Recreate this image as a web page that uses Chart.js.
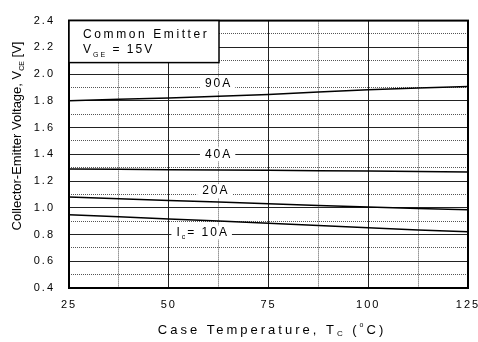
<!DOCTYPE html>
<html>
<head>
<meta charset="utf-8">
<script src="https://cdn.jsdelivr.net/npm/chart.js@4.4.0/dist/chart.umd.min.js"></script>
<style>
  html, body { margin: 0; padding: 0; background: #fff; }
  canvas { display: block; }
</style>
</head>
<body>
<canvas id="chart" width="478" height="342"></canvas>
<script>
// case temperature (°C) and V_CE (V)
const temps = [25, 50, 75, 100, 125];
const vce90 = [1.80, 1.822, 1.847, 1.883, 1.907];
const vce40 = [1.29, 1.285, 1.28, 1.275, 1.267];
const vce20 = [1.08, 1.055, 1.03, 1.005, 0.985];
const vce10 = [0.948, 0.917, 0.885, 0.85, 0.82];
const curveNames = ['90A', '40A', '20A', '10A'];
// where each curve label sits, in data units (temp, volts)
const labelTemp = [62.5, 62.5, 61.8, 58.5];
const labelVolt = [1.925, 1.4, 1.125, 0.815];

const FONT = '"Liberation Sans", Arial, sans-serif';

function pts(ys) { return temps.map((t, i) => ({ x: t, y: ys[i] })); }

function isMajorX(v) { return Math.abs(v % 25) < 1e-6; }
function isMajorY(v) { return Math.round(v * 10) % 2 === 0; }

// draw a row of text pieces, some of them subscripts
function runsWidth(ctx, runs) {
    let w = 0;
    runs.forEach(r => { ctx.font = r.size + 'px ' + FONT; w += ctx.measureText(r.t).width; });
    return w;
}
function drawRuns(ctx, x, y, runs, align) {
    let cx = align === 'center' ? x - runsWidth(ctx, runs) / 2 : x;
    ctx.textAlign = 'left';
    ctx.textBaseline = 'middle';
    runs.forEach(r => {
        ctx.font = r.size + 'px ' + FONT;
        ctx.fillText(r.t, cx, y + (r.dy || 0));
        cx += ctx.measureText(r.t).width;
    });
}

const decorations = {
    id: 'decorations',
    beforeDraw(chart) {
        chart.ctx.letterSpacing = '2px';
    },
    afterDraw(chart) {
        const { ctx, chartArea: a, scales } = chart;
        ctx.save();
        ctx.fillStyle = '#000';
        ctx.strokeStyle = '#000';

        // curve labels with a white gap behind them
        ctx.letterSpacing = '2px';
        curveNames.forEach((name, i) => {
            const px = scales.x.getPixelForValue(labelTemp[i]);
            const py = scales.y.getPixelForValue(labelVolt[i]);
            const runs = name === '10A'
                ? [{ t: 'I', size: 12 }, { t: 'c', size: 7, dy: 5 }, { t: '= 10A', size: 12 }]
                : [{ t: name, size: 12 }];
            const w = runsWidth(ctx, runs);
            ctx.fillStyle = '#fff';
            ctx.fillRect(px - w / 2 - 5, py - 7, w + 8, 14);
            ctx.fillStyle = '#000';
            drawRuns(ctx, px, py, runs, 'center');
        });

        // frame
        ctx.lineWidth = 2;
        ctx.strokeRect(a.left, a.top, a.right - a.left, a.bottom - a.top);

        // condition box
        ctx.fillStyle = '#fff';
        ctx.fillRect(a.left, a.top, 150, 42);
        ctx.lineWidth = 1.5;
        ctx.strokeRect(a.left, a.top, 150, 42);
        ctx.fillStyle = '#000';
        ctx.letterSpacing = '2.6px';
        drawRuns(ctx, a.left + 14, a.top + 14, [{ t: 'Common Emitter', size: 12 }], 'left');
        ctx.letterSpacing = '2px';
        drawRuns(ctx, a.left + 14, a.top + 29, [
            { t: 'V', size: 12 }, { t: 'GE', size: 7, dy: 5 }, { t: ' = 15V', size: 12 }
        ], 'left');

        // x axis title
        ctx.letterSpacing = '3px';
        drawRuns(ctx, 272, 330, [
            { t: 'Case Temperature, T', size: 13 }, { t: 'C', size: 8, dy: 4 },
            { t: ' (', size: 13 }, { t: 'o', size: 7, dy: -5 }, { t: 'C)', size: 13 }
        ], 'center');

        // y axis title
        ctx.letterSpacing = '0px';
        ctx.translate(17, 136);
        ctx.rotate(-Math.PI / 2);
        drawRuns(ctx, 0, 0, [
            { t: 'Collector-Emitter Voltage, V', size: 13 }, { t: 'CE', size: 7, dy: 5 },
            { t: ' [V]', size: 13 }
        ], 'center');
        ctx.restore();
    }
};

const lineStyle = { borderColor: '#000', borderWidth: 1.5, pointRadius: 0, fill: false, tension: 0.3 };

new Chart(document.getElementById('chart'), {
    type: 'line',
    data: {
        datasets: [
            Object.assign({ label: '90A', data: pts(vce90) }, lineStyle),
            Object.assign({ label: '40A', data: pts(vce40) }, lineStyle),
            Object.assign({ label: '20A', data: pts(vce20) }, lineStyle),
            Object.assign({ label: '10A', data: pts(vce10) }, lineStyle)
        ]
    },
    options: {
        responsive: false,
        animation: false,
        layout: { padding: { left: 0, top: 12, right: 10, bottom: 0 } },
        plugins: { legend: { display: false }, tooltip: { enabled: false } },
        scales: {
            x: {
                type: 'linear', min: 25, max: 125,
                afterFit: s => { s.height = 54; s.paddingLeft = 0; s.paddingRight = 0; },
                ticks: {
                    stepSize: 12.5, autoSkip: false, maxRotation: 0, padding: 10,
                    color: '#000', font: { family: FONT, size: 11 },
                    callback: v => isMajorX(v) ? String(v) : ''
                },
                grid: {
                    drawTicks: false,
                    color: c => c.tick && isMajorX(c.tick.value) ? '#222' : '#555',
                    lineWidth: 1
                },
                border: {
                    display: false,
                    dash: c => (c.tick && !isMajorX(c.tick.value)) ? [1, 1] : []
                }
            },
            y: {
                min: 0.4, max: 2.4,
                afterFit: s => { s.width = 69; },
                ticks: {
                    stepSize: 0.1, autoSkip: false, padding: 14,
                    color: '#000', font: { family: FONT, size: 11 },
                    callback: v => isMajorY(v) ? v.toFixed(1) : ''
                },
                grid: {
                    drawTicks: false,
                    color: c => c.tick && isMajorY(c.tick.value) ? '#222' : '#555',
                    lineWidth: 1
                },
                border: {
                    display: false,
                    dash: c => (c.tick && !isMajorY(c.tick.value)) ? [1, 1] : []
                }
            }
        }
    },
    plugins: [decorations]
});
</script>
</body>
</html>
